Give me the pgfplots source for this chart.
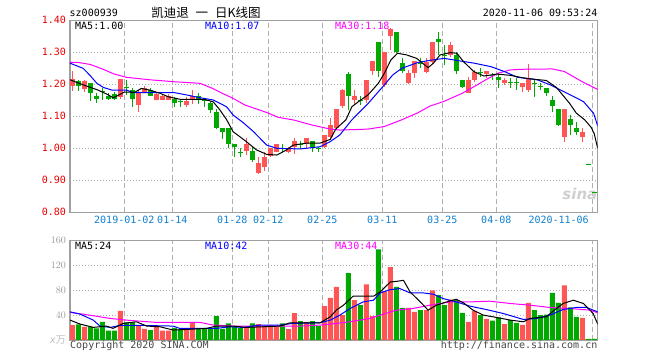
\documentclass[border=0pt]{standalone}
\usepackage{fontspec}
\setmainfont{DejaVu Sans Mono}
\newfontfamily\cjk{Noto Sans CJK SC}
\newfontfamily\sinafont{DejaVu Sans}
\usepackage{pgfplots}
\pgfplotsset{compat=1.18}
\definecolor{cR}{RGB}{255,85,85}
\definecolor{cG}{RGB}{0,168,0}
\definecolor{cBlue}{RGB}{0,0,255}
\definecolor{cMag}{RGB}{255,0,255}
\definecolor{cDate}{RGB}{16,128,208}
\definecolor{cGrid}{RGB}{175,175,175}
\definecolor{cBorder}{RGB}{160,160,160}
\definecolor{cTickR}{RGB}{235,0,0}
\definecolor{cVolTick}{RGB}{150,150,150}
\definecolor{cLight}{RGB}{190,190,190}
\definecolor{cCopy}{RGB}{70,70,70}
\pgfplotsset{
  kbase/.style={
    scale only axis, width=527.7pt,
    xmin=-0.383, xmax=87.57,
    axis line style={cBorder, line width=1.3pt},
    major tick length=0pt,
    xtick={8.667,16.667,26.667,32.667,41.667,51.667,61.667,70.667},
    extra x ticks={86.667},
    grid=major,
    x grid style={cGrid, dash pattern=on 5pt off 3pt, line width=1.2pt},
    y grid style={cGrid, dash pattern=on 1pt off 2pt, line width=1pt},
    tick label style={font=\fontsize{10}{10}\selectfont},
    yticklabel style={xshift=-0.5pt},
  }
}
\begin{document}
\begin{tikzpicture}
\path[use as bounding box] (0pt,0pt) rectangle (660pt,360pt);
\node[anchor=west, inner sep=0, font=\fontsize{10}{10}\selectfont] at (69.5pt,347pt) {sz000939};
\node[inner sep=0, font=\cjk\fontsize{12.5}{12.5}\selectfont] at (206pt,347.5pt) {凯迪退\hspace{0.55em}一\hspace{0.55em}日K线图};
\node[anchor=east, inner sep=0, font=\fontsize{10}{10}\selectfont] at (597.5pt,347pt) {2020-11-06 09:53:24};

% ---------- price panel ----------
\begin{axis}[kbase,
  at={(70pt,147.7pt)}, anchor=south west, height=192pt,
  ymin=0.8, ymax=1.4,
  xticklabels={2019-01-02,01-14,01-28,02-12,02-25,03-11,03-25,04-08},
  extra x tick labels={2020-11-06},
  extra x tick style={grid=major, xticklabel style={anchor=north east}},
  xticklabel style={text=cDate},
  ytick={0.8,0.9,1.0,1.1,1.2,1.3,1.4},
  yticklabels={0.80,0.90,1.00,1.10,1.20,1.30,1.40},
  yticklabel style={text=cTickR},
]
\node[inner sep=0, font=\sinafont\bfseries\itshape\fontsize{15}{15}\selectfont, text=gray!38] at (axis cs:84.6,0.858) {sina};
% red wicks
\addplot[cR, line width=1pt, unbounded coords=jump] coordinates {
(0,1.180)(0,1.241)(0,nan) (2,1.175)(2,1.214)(2,nan) (8,1.155)(8,1.216)(8,nan)
(11,1.115)(11,1.182)(11,nan) (12,1.172)(12,1.195)(12,nan) (14,1.151)(14,1.172)(14,nan)
(15,1.150)(15,1.166)(15,nan) (16,1.150)(16,1.169)(16,nan) (19,1.128)(19,1.161)(19,nan)
(20,1.139)(20,1.182)(20,nan) (29,0.979)(29,1.031)(29,nan) (31,0.920)(31,0.972)(31,nan)
(32,0.930)(32,0.990)(32,nan) (33,0.974)(33,1.000)(33,nan) (34,0.987)(34,1.012)(34,nan)
(36,0.984)(36,1.005)(36,nan) (37,0.981)(37,1.033)(37,nan) (39,0.998)(39,1.031)(39,nan)
(42,1.000)(42,1.042)(42,nan) (43,1.030)(43,1.094)(43,nan) (44,1.060)(44,1.123)(44,nan)
(45,1.125)(45,1.185)(45,nan) (47,1.135)(47,1.182)(47,nan) (49,1.143)(49,1.214)(49,nan)
(50,1.230)(50,1.273)(50,nan) (52,1.193)(52,1.302)(52,nan) (53,1.307)(53,1.375)(53,nan)
(56,1.201)(56,1.245)(56,nan) (57,1.219)(57,1.273)(57,nan) (59,1.234)(59,1.281)(59,nan)
(60,1.265)(60,1.333)(60,nan) (63,1.286)(63,1.333)(63,nan) (66,1.172)(66,1.224)(66,nan)
(67,1.208)(67,1.245)(67,nan) (69,1.221)(69,1.242)(69,nan) (72,1.198)(72,1.219)(72,nan)
(75,1.177)(75,1.205)(75,nan) (76,1.177)(76,1.264)(76,nan) (82,1.021)(82,1.122)(82,nan)
(85,1.021)(85,1.062)
};
% red bodies
\addplot[cR, line width=4.5pt, unbounded coords=jump] coordinates {
(0,1.195)(0,1.216)(0,nan) (2,1.185)(2,1.210)(2,nan) (8,1.161)(8,1.216)(8,nan)
(11,1.134)(11,1.174)(11,nan) (12,1.177)(12,1.190)(12,nan) (14,1.151)(14,1.169)(14,nan)
(15,1.151)(15,1.164)(15,nan) (16,1.151)(16,1.165)(16,nan) (19,1.135)(19,1.148)(19,nan)
(20,1.151)(20,1.164)(20,nan) (29,0.993)(29,1.015)(29,nan) (31,0.924)(31,0.953)(31,nan)
(32,0.943)(32,0.972)(32,nan) (33,0.977)(33,1.000)(33,nan) (34,0.990)(34,1.012)(34,nan)
(36,0.990)(36,1.000)(36,nan) (37,1.005)(37,1.023)(37,nan) (39,1.012)(39,1.031)(39,nan)
(42,1.005)(42,1.042)(42,nan) (43,1.036)(43,1.073)(43,nan) (44,1.062)(44,1.123)(44,nan)
(45,1.132)(45,1.182)(45,nan) (47,1.151)(47,1.164)(47,nan) (49,1.151)(49,1.214)(49,nan)
(50,1.242)(50,1.273)(50,nan) (52,1.198)(52,1.302)(52,nan) (53,1.351)(53,1.372)(53,nan)
(56,1.205)(56,1.236)(56,nan) (57,1.234)(57,1.273)(57,nan) (59,1.240)(59,1.271)(59,nan)
(60,1.271)(60,1.333)(60,nan) (63,1.292)(63,1.323)(63,nan) (66,1.174)(66,1.214)(66,nan)
(67,1.214)(67,1.240)(67,nan) (69,1.231)(69,1.242)(69,nan) (72,1.203)(72,1.214)(72,nan)
(75,1.193)(75,1.205)(75,nan) (76,1.182)(76,1.219)(76,nan) (82,1.034)(82,1.122)(82,nan)
(85,1.034)(85,1.052)
};
% green wicks
\addplot[cG, line width=1pt, unbounded coords=jump] coordinates {
(1,1.180)(1,1.213)(1,nan) (3,1.149)(3,1.205)(3,nan) (4,1.141)(4,1.174)(4,nan)
(5,1.151)(5,1.190)(5,nan) (6,1.150)(6,1.172)(6,nan) (7,1.151)(7,1.177)(7,nan)
(9,1.168)(9,1.214)(9,nan) (10,1.130)(10,1.188)(10,nan) (13,1.162)(13,1.188)(13,nan)
(17,1.130)(17,1.159)(17,nan) (18,1.128)(18,1.154)(18,nan) (21,1.140)(21,1.172)(21,nan)
(22,1.130)(22,1.157)(22,nan) (23,1.110)(23,1.146)(23,nan) (24,1.059)(24,1.122)(24,nan)
(25,1.029)(25,1.062)(25,nan) (26,1.000)(26,1.062)(26,nan) (27,0.972)(27,1.015)(27,nan)
(28,0.972)(28,1.000)(28,nan) (30,0.958)(30,1.005)(30,nan) (35,0.985)(35,1.012)(35,nan)
(38,0.998)(38,1.024)(38,nan) (40,0.990)(40,1.023)(40,nan) (41,0.990)(41,1.005)(41,nan)
(46,1.120)(46,1.240)(46,nan) (48,1.135)(48,1.162)(48,nan) (51,1.224)(51,1.332)(51,nan)
(54,1.297)(54,1.365)(54,nan) (55,1.234)(55,1.281)(55,nan) (58,1.250)(58,1.281)(58,nan)
(61,1.292)(61,1.365)(61,nan) (62,1.260)(62,1.323)(62,nan) (64,1.232)(64,1.302)(64,nan)
(65,1.188)(65,1.214)(65,nan) (68,1.224)(68,1.250)(68,nan) (70,1.214)(70,1.234)(70,nan)
(71,1.188)(71,1.234)(71,nan) (73,1.188)(73,1.219)(73,nan) (74,1.183)(74,1.219)(74,nan)
(77,1.161)(77,1.214)(77,nan) (78,1.182)(78,1.203)(78,nan) (79,1.164)(79,1.190)(79,nan)
(80,1.112)(80,1.164)(80,nan) (81,1.070)(81,1.122)(81,nan) (83,1.042)(83,1.104)(83,nan)
(84,1.042)(84,1.083)
};
% green bodies
\addplot[cG, line width=4.5pt, unbounded coords=jump] coordinates {
(1,1.210)(1,1.195)(1,nan) (3,1.203)(3,1.174)(3,nan) (4,1.165)(4,1.153)(4,nan)
(5,1.178)(5,1.175)(5,nan) (6,1.165)(6,1.153)(6,nan) (7,1.170)(7,1.154)(7,nan)
(9,1.192)(9,1.189)(9,nan) (10,1.182)(10,1.153)(10,nan) (13,1.182)(13,1.164)(13,nan)
(17,1.153)(17,1.143)(17,nan) (18,1.147)(18,1.144)(18,nan) (21,1.162)(21,1.151)(21,nan)
(22,1.150)(22,1.147)(22,nan) (23,1.141)(23,1.120)(23,nan) (24,1.112)(24,1.062)(24,nan)
(25,1.062)(25,1.052)(25,nan) (26,1.062)(26,1.014)(26,nan) (27,1.015)(27,1.003)(27,nan)
(28,0.989)(28,0.986)(28,nan) (30,0.993)(30,0.964)(30,nan) (35,1.000)(35,0.997)(35,nan)
(38,1.013)(38,1.010)(38,nan) (40,1.023)(40,1.005)(40,nan) (41,1.001)(41,0.998)(41,nan)
(46,1.231)(46,1.164)(46,nan) (48,1.152)(48,1.149)(48,nan) (51,1.332)(51,1.243)(51,nan)
(54,1.365)(54,1.302)(54,nan) (55,1.266)(55,1.243)(55,nan) (58,1.267)(58,1.264)(58,nan)
(61,1.342)(61,1.333)(61,nan) (62,1.293)(62,1.290)(62,nan) (64,1.292)(64,1.243)(64,nan)
(65,1.214)(65,1.193)(65,nan) (68,1.238)(68,1.235)(68,nan) (70,1.228)(70,1.225)(70,nan)
(71,1.224)(71,1.214)(71,nan) (73,1.207)(73,1.204)(73,nan) (74,1.207)(74,1.204)(74,nan)
(77,1.204)(77,1.201)(77,nan) (78,1.195)(78,1.192)(78,nan) (79,1.190)(79,1.172)(79,nan)
(80,1.151)(80,1.132)(80,nan) (81,1.122)(81,1.073)(81,nan) (83,1.091)(83,1.073)(83,nan)
(84,1.062)(84,1.052)(84,nan) (86,0.951)(86,0.948)(86,nan) (87,0.862)(87,0.859)
};
% MA30
\addplot[cMag, line width=1pt] coordinates {
(-0.38,1.269)(1.1,1.268)(3,1.262)(5,1.248)(7,1.232)(9,1.222)(11,1.218)(13,1.214)(17,1.208)
(21.3,1.203)(23.4,1.187)(25,1.172)(26.8,1.156)(28.8,1.135)(32.4,1.112)(34.3,1.097)(37,1.088)
(39.9,1.073)(43,1.060)(44.6,1.057)(49.3,1.060)(52,1.068)(54.9,1.089)(57.6,1.111)(59.6,1.132)
(62,1.147)(65,1.172)(67,1.193)(69,1.215)(71,1.235)(73,1.245)(75,1.247)(80,1.248)(82,1.240)
(85,1.208)(87.57,1.184)
};
% MA10
\addplot[cBlue, line width=1pt] coordinates {
(-0.38,1.266)(1.8,1.250)(2.9,1.229)(4.1,1.203)(5.2,1.190)(6.6,1.182)(9.1,1.182)(10,1.174)
(17,1.174)(19,1.167)(21.3,1.158)(23.5,1.151)(25.7,1.130)(26.8,1.104)(28.5,1.080)(30.2,1.052)
(32.4,1.010)(34.1,1.000)(38,0.998)(41.3,1.005)(43,1.021)(44.6,1.042)(46.6,1.089)(49.3,1.140)
(52,1.198)(53.4,1.229)(54.9,1.250)(57.6,1.268)(59.6,1.275)(62,1.281)(64.3,1.274)(67,1.266)
(69.8,1.255)(72,1.240)(74.2,1.222)(77.5,1.214)(79.7,1.198)(81.4,1.182)(83,1.167)(85.2,1.146)
(86.9,1.109)(87.57,1.070)
};
% MA5
\addplot[black, line width=1pt] coordinates {
(-0.38,1.214)(1,1.204)(2.6,1.193)(4.3,1.182)(6,1.167)(6.8,1.158)(7.6,1.165)(8.7,1.176)
(10.4,1.175)(11.5,1.187)(12.9,1.182)(14.6,1.172)(16,1.161)(18,1.153)(22,1.153)(23.5,1.145)
(24.6,1.120)(25.7,1.090)(26.8,1.052)(29,1.021)(30.7,0.995)(32.4,0.981)(34.1,0.979)(35.7,0.995)
(36.8,1.010)(39,1.016)(41.3,1.016)(43,1.028)(43.9,1.060)(45.6,1.089)(46.6,1.130)(48,1.150)
(49.3,1.167)(51,1.203)(52,1.234)(53.1,1.276)(54.2,1.297)(55.7,1.292)(57.4,1.281)(59.3,1.252)
(60.2,1.266)(61.3,1.292)(63,1.299)(64.1,1.297)(65.2,1.271)(66.9,1.240)(68.6,1.226)(70.8,1.232)
(73,1.228)(75.2,1.220)(77.4,1.215)(79,1.212)(80.7,1.190)(81.8,1.165)(82.9,1.140)(84,1.110)
(85.4,1.089)(86.5,1.065)(87,1.045)(87.57,1.000)
};
\end{axis}
\node[anchor=west, inner sep=0, font=\fontsize{10}{10}\selectfont] at (75pt,334pt) {MA5:1.00};
\node[anchor=west, inner sep=0, font=\fontsize{10}{10}\selectfont, text=cBlue] at (205pt,334pt) {MA10:1.07};
\node[anchor=west, inner sep=0, font=\fontsize{10}{10}\selectfont, text=cMag] at (335pt,334pt) {MA30:1.18};

% ---------- volume panel ----------
\begin{axis}[kbase,
  at={(70pt,20pt)}, anchor=south west, height=99.5pt,
  ymin=0, ymax=160,
  xticklabels={},
  extra x tick labels={},
  extra x tick style={grid=major},
  ytick={40,80,120,160},
  yticklabel style={text=cVolTick},
  extra y ticks={0},
  extra y tick labels={{\itshape x}{\cjk 万}},
  extra y tick style={yticklabel style={text=cLight}},
]
\addplot[ybar, bar width=5pt, bar shift=0pt, fill=cR, draw=none] coordinates {
(0,24)(2,21.3)(8,47)(11,23)(12,18)(14,21.3)(15,15)(16,15)(19,17.6)(20,27.7)(29,20.3)
(31,25.6)(32,22.4)(33,23.5)(34,21.3)(36,17.6)(37,43.2)(39,29.3)(42,54.4)(43,67.7)(44,85.3)
(45,40)(47,64)(49,89.6)(50,38.4)(52,78.4)(53,117.3)(56,51.7)(57,45.3)(59,48)(60,80)(63,65)
(66,29.3)(67,47)(69,34)(72,25.6)(75,24.5)(76,59.7)(82,88)(85,35.7)
};
\addplot[ybar, bar width=5pt, bar shift=0pt, fill=cG, draw=none] coordinates {
(1,25)(3,21.3)(4,18.7)(5,29.3)(6,15)(7,15)(9,28.3)(10,28.3)(13,16)(17,19.7)(18,17)(21,17.6)
(22,17.6)(23,17.6)(24,38.4)(25,18)(26,26.7)(27,21.3)(28,19.7)(30,26.7)(35,26.7)(38,30.4)
(40,30.4)(41,22.4)(46,107.7)(48,56)(51,145.6)(54,85.3)(55,51.7)(58,48)(61,72)(62,56)(64,64)
(65,43.7)(68,40)(70,31)(71,36.3)(73,32)(74,27.7)(77,48)(78,40)(79,41)(80,75.7)(81,59.7)
(83,52.3)(84,37.3)(86,2)(87,2)
};
\addplot[cMag, line width=1pt] coordinates {
(-0.38,44.3)(1.8,41.6)(4.6,37.3)(6.3,34.7)(9,32)(14,28.3)(21.3,28.3)(23.5,24)(26.8,22.4)
(38,22.4)(41.3,24)(43,25.6)(46.3,29.3)(49.6,34.7)(51.3,40)(54,48)(56.8,50.7)(59.6,56)(63,61.3)
(66.3,61.3)(69.6,62.4)(73,58.7)(76.3,56)(79.6,52.3)(83,50.7)(86.3,48)(87.57,43.7)
};
\addplot[cBlue, line width=1pt] coordinates {
(-0.38,45.3)(1.3,41.6)(3.5,32)(4.6,22.4)(6.3,20.3)(8,23.5)(11.3,23.5)(16.8,22.4)(17.9,18.7)
(24,18.7)(26.3,21.3)(28.5,20.3)(31.3,24)(34.6,24)(36.8,26.7)(41.3,27.7)(43,32)(44.6,40)
(46.3,50.7)(48.5,61.3)(50.2,64)(51.3,75.7)(53,81)(54.6,82.7)(56.3,75.7)(58.5,75.7)(60.2,73.6)
(61.8,66.7)(64,61.3)(66.3,54.4)(69,49)(71.8,42.7)(75.2,33)(77.4,34.7)(79.6,40)(81.8,49)
(84,52.3)(85.7,52.3)(87.57,45.3)
};
\addplot[black, line width=1pt] coordinates {
(-0.38,32)(1.3,25.6)(3.5,20.3)(5.7,22.4)(6.8,18.7)(8.5,26.7)(10.7,29.3)(12.4,22.4)(14.6,21.3)
(16.8,16)(19,17)(22.4,18.7)(24,22.4)(26.8,22.4)(29,20.3)(31.8,21.3)(34.6,22.4)(36.3,27.7)
(41.3,27.7)(43,37.3)(44,48)(45.2,56)(46.8,70.4)(50.2,70.4)(51.3,77.3)(53,93.3)(54.1,94.4)
(55.2,96)(56.3,77.3)(58,61.3)(59.3,48)(60.7,56)(62.4,61.3)(64,65.6)(65.2,59.7)(66.8,48)
(68.5,40)(70.7,36.3)(73,32)(75.2,29.3)(76.3,34.7)(79,37.3)(80.7,50.7)(81.8,58.7)(83.5,64)
(85.2,58.7)(86.8,42.7)(87.57,25.6)
};
\end{axis}
\node[anchor=west, inner sep=0, font=\fontsize{10}{10}\selectfont] at (75pt,113.7pt) {MA5:24};
\node[anchor=west, inner sep=0, font=\fontsize{10}{10}\selectfont, text=cBlue] at (205pt,113.7pt) {MA10:42};
\node[anchor=west, inner sep=0, font=\fontsize{10}{10}\selectfont, text=cMag] at (335pt,113.7pt) {MA30:44};
\node[anchor=west, inner sep=0, font=\fontsize{10}{10}\selectfont, text=cCopy] at (70pt,14pt) {Copyright 2020 SINA.COM};
\node[anchor=east, inner sep=0, font=\fontsize{10}{10}\selectfont, text=cCopy] at (597.5pt,14pt) {http://finance.sina.com.cn};
\end{tikzpicture}
\end{document}
